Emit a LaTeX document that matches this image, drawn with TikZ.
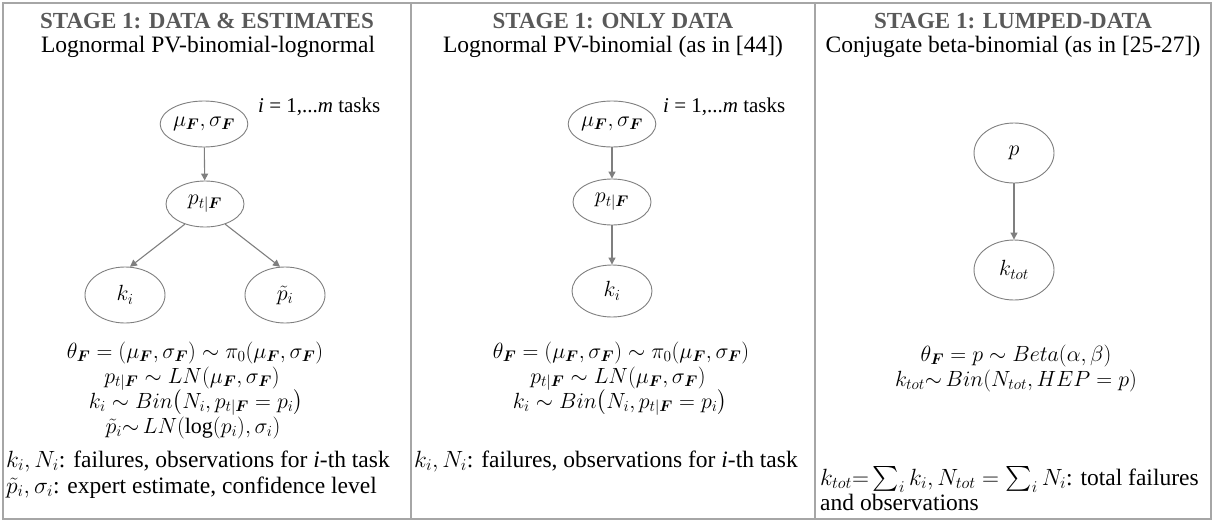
\RequirePackage{fix-cm}
\documentclass[tikz,border=0pt]{standalone}
\usepackage{amsmath}
\usepackage{bm}
\usepackage{fontspec}
\setmainfont{Liberation Serif}
\usetikzlibrary{arrows.meta,shapes.geometric}
\definecolor{bordc}{HTML}{A6A6A6}
\definecolor{titc}{HTML}{595959}
\definecolor{edgec}{HTML}{7F7F7F}
\begin{document}
\begin{tikzpicture}[x=1pt,y=-1pt,
  var/.style={ellipse, draw=edgec, line width=0.9pt, inner sep=0pt, minimum width=80pt, minimum height=48pt, font=\fontsize{22}{24}\selectfont},
  arr/.style={-{Triangle[length=7pt,width=7pt]}, draw=edgec, line width=1.1pt},
  ttl/.style={font=\fontsize{23}{26}\selectfont\bfseries, text=titc, anchor=base, inner sep=0pt},
  sub/.style={font=\fontsize{23.5}{26}\selectfont, anchor=base, inner sep=0pt},
  eq/.style={font=\fontsize{22}{25}\selectfont, anchor=base, inner sep=0pt},
  foot/.style={font=\fontsize{23.5}{25.5}\selectfont, align=left, anchor=base west, inner sep=0pt},
  lbl/.style={font=\fontsize{21}{24}\selectfont, anchor=base west, inner sep=0pt}]
\useasboundingbox (0,0) rectangle (1214,522);
% frame
\draw[bordc, line width=1.5pt] (3,3) rectangle (1211,519);
\draw[bordc, line width=1.5pt] (411,3) -- (411,519);
\draw[bordc, line width=1.5pt] (815,3) -- (815,519);
% titles
\node[ttl] (t1) at (207,28) {STAGE 1: DATA \& ESTIMATES};
\node[ttl] (t2) at (613,28) {STAGE 1: ONLY DATA};
\node[ttl] (t3) at (1013,28) {STAGE 1: LUMPED-DATA};
\node[sub] (s1) at (208,52) {Lognormal PV-binomial-lognormal};
\node[sub] (s2) at (613,52) {Lognormal PV-binomial (as in [44])};
\node[sub] (s3) at (1013,52) {Conjugate beta-binomial (as in [25-27])};
% panel 1
\node[var, minimum width=82pt, minimum height=46pt] (mu1) at (204,124) {$\mu_{\bm F},\sigma_{\bm F}$};
\node[var, minimum width=78pt, minimum height=46pt] (p1) at (205,204) {$p_{t|\bm F}$};
\node[var, minimum height=56pt] (k1) at (125,295) {$k_i$};
\node[var, minimum height=56pt] (e1) at (285,295) {$\tilde p_i$};
\node[lbl] (i1) at (258,112) {\textit{i} = 1,...\textit{m} tasks};
\draw[arr] (mu1) -- (p1);
\draw[arr] (p1.-135) -- (k1.80);
\draw[arr] (p1.-45) -- (e1.100);
\node[eq] (q1a) at (195,358) {$\theta_{\bm F}=(\mu_{\bm F},\sigma_{\bm F})\sim\pi_0(\mu_{\bm F},\sigma_{\bm F})$};
\node[eq] (q1b) at (192,383) {$p_{t|\bm F}\sim LN(\mu_{\bm F},\sigma_{\bm F})$};
\node[eq] (q1c) at (196,408) {$k_i\sim Bin\bigl(N_i,p_{t|\bm F}=p_i\bigr)$};
\node[eq] (q1d) at (193,433) {$\tilde p_i{\sim}\,LN(\log(p_i),\sigma_i)$};
\node[foot] (f1) at (6,467) {$k_i,N_i$: failures, observations for \textit{i}-th task};
\node[foot] (f1b) at (6,493) {$\tilde p_i,\sigma_i$: expert estimate, confidence level};
% panel 2
\node[var, minimum width=82pt, minimum height=46pt] (mu2) at (612,124) {$\mu_{\bm F},\sigma_{\bm F}$};
\node[var, minimum width=78pt, minimum height=46pt] (p2) at (612,202) {$p_{t|\bm F}$};
\node[var, minimum height=52pt] (k2) at (612,291) {$k_i$};
\node[lbl] (i2) at (663,112) {\textit{i} = 1,...\textit{m} tasks};
\draw[arr] (mu2) -- (p2);
\draw[arr] (p2) -- (k2);
\node[eq] (q2a) at (621,358) {$\theta_{\bm F}=(\mu_{\bm F},\sigma_{\bm F})\sim\pi_0(\mu_{\bm F},\sigma_{\bm F})$};
\node[eq] (q2b) at (618,383) {$p_{t|\bm F}\sim LN(\mu_{\bm F},\sigma_{\bm F})$};
\node[eq] (q2c) at (620,408) {$k_i\sim Bin\bigl(N_i,p_{t|\bm F}=p_i\bigr)$};
\node[foot] (f2) at (414,467) {$k_i,N_i$: failures, observations for \textit{i}-th task};
% panel 3
\node[var, minimum height=60pt] (p3) at (1014,153) {$p$};
\node[var, minimum height=60pt] (k3) at (1014,270) {$k_{tot}$};
\draw[arr] (p3) -- (k3);
\node[eq] (q3a) at (1016,361) {$\theta_{\bm F}=p\sim Beta(\alpha,\beta)$};
\node[eq] (q3b) at (1016,386) {$k_{tot}{\sim}\,Bin(N_{tot},HEP=p)$};
\node[foot] (f3) at (820,485) {$k_{tot}{=}\textstyle\sum_i k_i, N_{tot}=\sum_i N_i$: total failures};
\node[foot] (f3b) at (820,510) {and observations};
\end{tikzpicture}
\end{document}
